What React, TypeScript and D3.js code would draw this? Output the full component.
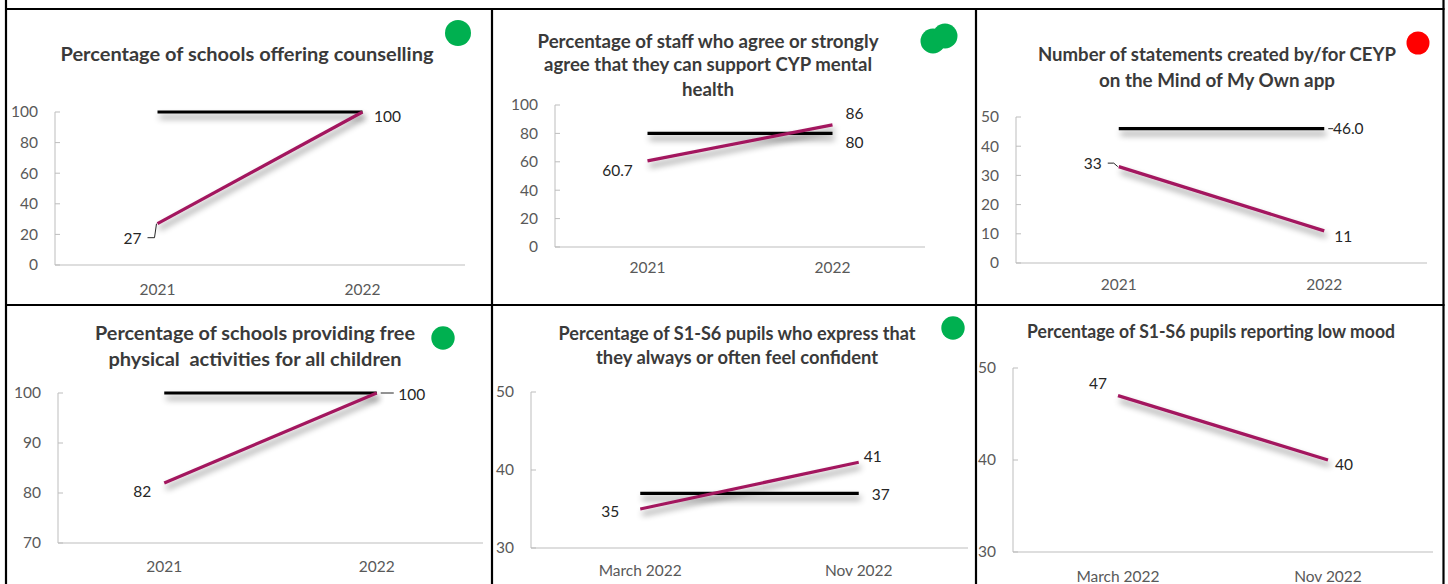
import React from "react";
import * as d3 from "d3";

// ---------- data ----------
const yearCategories = ["2021", "2022"];
const surveyCategories = ["March 2022", "Nov 2022"];

const counsellingTitle = ["Percentage of schools offering counselling"];
const counsellingValues = [27, 100];
const counsellingTarget = [100, 100];

const staffTitle = [
  "Percentage of staff who agree or strongly",
  "agree that they can support CYP mental",
  "health",
];
const staffValues = [60.7, 86];
const staffTarget = [80, 80];

const statementsTitle = ["Number of statements created by/for CEYP", "on the Mind of My Own app"];
const statementsValues = [33, 11];
const statementsTarget = [46, 46];

const activitiesTitle = ["Percentage of schools providing free", "physical  activities for all children"];
const activitiesValues = [82, 100];
const activitiesTarget = [100, 100];

const confidentTitle = ["Percentage of S1-S6 pupils who express that", "they always or often feel confident"];
const confidentValues = [35, 41];
const confidentTarget = [37, 37];

const lowMoodTitle = ["Percentage of S1-S6 pupils reporting low mood"];
const lowMoodValues = [47, 40];

const ticksPercent = [0, 20, 40, 60, 80, 100];
const ticksCount = [0, 10, 20, 30, 40, 50];
const ticksUpper = [70, 80, 90, 100];
const ticksMid = [30, 40, 50];

// ---------- styles ----------
const FONT = "Lato, 'Open Sans', sans-serif";
const TITLE_SIZE = 19;
const TICK_SIZE = 15.5;
const LABEL_SIZE = 15.5;
const SERIES_COLOR = "#A3195E";
const TARGET_COLOR = "#000000";
const AXIS_COLOR = "#BDBDBD";
const TICK_TEXT = "#595959";
const TITLE_TEXT = "#3A3A3A";
const LABEL_TEXT = "#262626";
const GREEN = "#00B050";
const RED = "#FF0000";

type LabelSpec = {
  series: "value" | "target";
  index: number;
  dx: number;
  dy: number;
  fmt?: string;
  leader?: [number, number][];
};

type PanelSpec = {
  title: string[];
  titleX: number;
  titleBaselines: number[];
  titleWidths: number[];
  categories: string[];
  values: number[];
  target?: number[];
  ticks: number[];
  plot: { left: number; right: number; top: number; bottom: number };
  catLabelY: number;
  labels: LabelSpec[];
  dots: { cx: number; cy: number; r: number; color: string }[];
};

const panels: PanelSpec[] = [
  {
    title: counsellingTitle,
    titleX: 247,
    titleBaselines: [61],
    titleWidths: [373],
    categories: yearCategories,
    values: counsellingValues,
    target: counsellingTarget,
    ticks: ticksPercent,
    plot: { left: 55, right: 465, top: 112, bottom: 265 },
    catLabelY: 295,
    labels: [
      { series: "value", index: 0, dx: -25, dy: 15, leader: [[-1, 0], [-3, 14], [-10, 14]] },
      { series: "value", index: 1, dx: 25, dy: 5 },
    ],
    dots: [{ cx: 458, cy: 33, r: 13, color: GREEN }],
  },
  {
    title: staffTitle,
    titleX: 708,
    titleBaselines: [47.5, 71, 95.5],
    titleWidths: [341, 328, 52],
    categories: yearCategories,
    values: staffValues,
    target: staffTarget,
    ticks: ticksPercent,
    plot: { left: 555, right: 925, top: 105, bottom: 247 },
    catLabelY: 273,
    labels: [
      { series: "value", index: 0, dx: -30, dy: 10 },
      { series: "value", index: 1, dx: 22, dy: -11 },
      { series: "target", index: 1, dx: 22, dy: 9 },
    ],
    dots: [
      { cx: 933, cy: 41, r: 12.5, color: GREEN },
      { cx: 945, cy: 36, r: 12.5, color: GREEN },
    ],
  },
  {
    title: statementsTitle,
    titleX: 1217,
    titleBaselines: [61, 86.5],
    titleWidths: [358, 236],
    categories: yearCategories,
    values: statementsValues,
    target: statementsTarget,
    ticks: ticksCount,
    plot: { left: 1016, right: 1427, top: 117, bottom: 263 },
    catLabelY: 290,
    labels: [
      { series: "value", index: 0, dx: -26, dy: -3.5, leader: [[-11, -3.5], [-5, -3.5], [-1, 0]] },
      { series: "value", index: 1, dx: 19, dy: 6 },
      { series: "target", index: 1, dx: 24, dy: 0, fmt: ".1f", leader: [[4, 0], [9, 0]] },
    ],
    dots: [{ cx: 1418, cy: 43, r: 11.5, color: RED }],
  },
  {
    title: activitiesTitle,
    titleX: 255,
    titleBaselines: [340, 365.5],
    titleWidths: [320, 293],
    categories: yearCategories,
    values: activitiesValues,
    target: activitiesTarget,
    ticks: ticksUpper,
    plot: { left: 58, right: 483, top: 393, bottom: 543 },
    catLabelY: 571.5,
    labels: [
      { series: "value", index: 0, dx: -22, dy: 9 },
      { series: "value", index: 1, dx: 35, dy: 2, leader: [[4, 0], [17, 0]] },
    ],
    dots: [{ cx: 443, cy: 338, r: 11.7, color: GREEN }],
  },
  {
    title: confidentTitle,
    titleX: 737,
    titleBaselines: [340, 364],
    titleWidths: [357, 282],
    categories: surveyCategories,
    values: confidentValues,
    target: confidentTarget,
    ticks: ticksMid,
    plot: { left: 531, right: 968, top: 392, bottom: 548 },
    catLabelY: 575.5,
    labels: [
      { series: "value", index: 0, dx: -30, dy: 3 },
      { series: "value", index: 1, dx: 14, dy: -6 },
      { series: "target", index: 1, dx: 22, dy: 1 },
    ],
    dots: [{ cx: 953, cy: 328, r: 11.7, color: GREEN }],
  },
  {
    title: lowMoodTitle,
    titleX: 1211,
    titleBaselines: [337.5],
    titleWidths: [368],
    categories: surveyCategories,
    values: lowMoodValues,
    ticks: ticksMid,
    plot: { left: 1013, right: 1433, top: 368, bottom: 552 },
    catLabelY: 581.5,
    labels: [
      { series: "value", index: 0, dx: -20, dy: -12 },
      { series: "value", index: 1, dx: 16, dy: 5 },
    ],
    dots: [],
  },
];

function ChartPanel({ p }: { p: PanelSpec }) {
  const x = d3.scaleBand<string>().domain(p.categories).range([p.plot.left, p.plot.right]);
  const [lo, hi] = d3.extent(p.ticks) as [number, number];
  const y = d3.scaleLinear().domain([lo, hi]).range([p.plot.bottom, p.plot.top]);
  const cx = (i: number) => (x(p.categories[i]) as number) + x.bandwidth() / 2;
  const line = d3
    .line<number>()
    .x((_, i) => cx(i))
    .y((v) => y(v));

  return (
    <g>
      {p.dots.map((d, i) => (
        <circle key={i} cx={d.cx} cy={d.cy} r={d.r} fill={d.color} />
      ))}
      {p.title.map((t, i) => (
        <text
          key={i}
          x={p.titleX}
          y={p.titleBaselines[i]}
          textLength={p.titleWidths[i]}
          lengthAdjust="spacingAndGlyphs"
          fontFamily={FONT}
          fontWeight={700}
          fontSize={TITLE_SIZE}
          fill={TITLE_TEXT}
          textAnchor="middle"
          style={{ whiteSpace: "pre" }}
        >
          {t}
        </text>
      ))}

      {/* axes */}
      <line x1={p.plot.left} x2={p.plot.left} y1={p.plot.top} y2={p.plot.bottom} stroke={AXIS_COLOR} strokeWidth={1} />
      <line x1={p.plot.left} x2={p.plot.right} y1={p.plot.bottom} y2={p.plot.bottom} stroke={AXIS_COLOR} strokeWidth={1} />
      {p.ticks.map((t) => (
        <g key={t}>
          <line x1={p.plot.left} x2={p.plot.left + 5} y1={y(t)} y2={y(t)} stroke={AXIS_COLOR} strokeWidth={1} />
          <text
            x={p.plot.left - 17}
            y={y(t)}
            dy="0.35em"
            textAnchor="end"
            fontFamily={FONT}
            fontSize={TICK_SIZE}
            fill={TICK_TEXT}
          >
            {t}
          </text>
        </g>
      ))}
      {p.categories.map((c, i) => (
        <text
          key={c}
          x={cx(i)}
          y={p.catLabelY}
          textAnchor="middle"
          fontFamily={FONT}
          fontSize={TICK_SIZE}
          fill={TICK_TEXT}
        >
          {c}
        </text>
      ))}

      {/* target and actual lines */}
      {p.target && (
        <path d={line(p.target) ?? ""} fill="none" stroke={TARGET_COLOR} strokeWidth={3.2} filter="url(#shadow)" />
      )}
      <path d={line(p.values) ?? ""} fill="none" stroke={SERIES_COLOR} strokeWidth={3.2} filter="url(#shadow)" />

      {/* data labels */}
      {p.labels.map((l, k) => {
        const arr = l.series === "value" ? p.values : (p.target as number[]);
        const v = arr[l.index];
        const px = cx(l.index);
        const py = y(v);
        const txt = l.fmt ? d3.format(l.fmt)(v) : String(v);
        return (
          <g key={k}>
            {l.leader && (
              <path
                d={d3.line()(l.leader.map(([a, b]) => [px + a, py + b] as [number, number])) ?? ""}
                fill="none"
                stroke="#262626"
                strokeWidth={1}
              />
            )}
            <text
              x={px + l.dx}
              y={py + l.dy}
              dy="0.35em"
              textAnchor="middle"
              fontFamily={FONT}
              fontSize={LABEL_SIZE}
              fill={LABEL_TEXT}
            >
              {txt}
            </text>
          </g>
        );
      })}
    </g>
  );
}

// table grid around the six charts
const gridCols = [6, 492, 976, 1443.5];
const gridRows = [9, 305];

export default function App() {
  const W = 1448;
  const H = 584;
  return (
    <svg width={W} height={H} style={{ position: "absolute", left: 0, top: 0, background: "#fff" }}>
      <defs>
        <filter id="shadow" filterUnits="userSpaceOnUse" x={0} y={0} width={W} height={H}>
          <feDropShadow dx={2} dy={5} stdDeviation={3} floodColor="#000" floodOpacity={0.45} />
        </filter>
      </defs>
      <rect x={0} y={0} width={W} height={H} fill="#fff" />
      {panels.map((p, i) => (
        <ChartPanel key={i} p={p} />
      ))}
      {gridRows.map((r) => (
        <line key={"r" + r} x1={gridCols[0] - 1} x2={gridCols[3] + 1} y1={r} y2={r} stroke="#000" strokeWidth={2.2} />
      ))}
      {gridCols.map((c, i) => (
        <line
          key={"c" + c}
          x1={c}
          x2={c}
          y1={i === 0 || i === gridCols.length - 1 ? 0 : gridRows[0]}
          y2={H}
          stroke="#000"
          strokeWidth={2.2}
        />
      ))}
    </svg>
  );
}
